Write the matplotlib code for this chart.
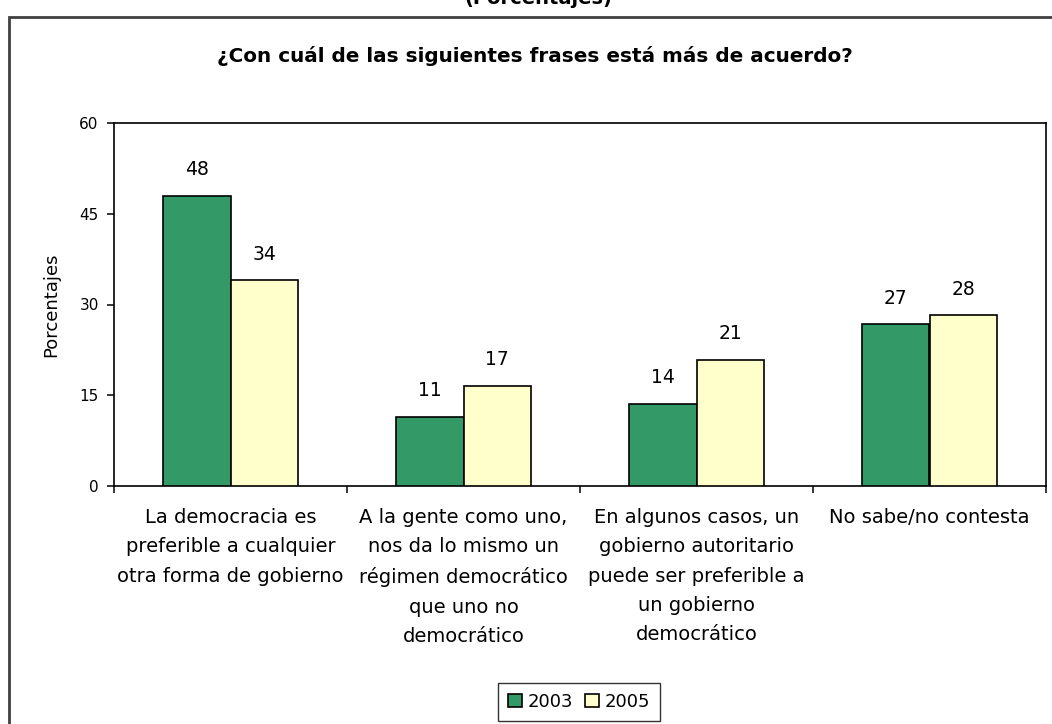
import matplotlib
matplotlib.use("Agg")
import matplotlib.pyplot as plt
import numpy as np
from matplotlib.patches import Rectangle

categories = [
    "La democracia es\npreferible a cualquier\notra forma de gobierno",
    "A la gente como uno,\nnos da lo mismo un\nrégimen democrático\nque uno no\ndemocrático",
    "En algunos casos, un\ngobierno autoritario\npuede ser preferible a\nun gobierno\ndemocrático",
    "No sabe/no contesta",
]
series_names = ["2003", "2005"]
values_2003 = [48.0, 11.4, 13.6, 26.7]
values_2005 = [34.0, 16.6, 20.8, 28.2]
yticks = [0, 15, 30, 45, 60]

title = "¿Con cuál de las siguientes frases está más de acuerdo?"
top_title = "(Porcentajes)"
ylabel = "Porcentajes"

colors = ["#339966", "#FFFFCC"]

W, H = 1052, 724
fig = plt.figure(figsize=(W / 100, H / 100), dpi=100)
fig.patch.set_facecolor("white")

def fx(px):
    return px / W

def fy(py):
    return 1 - py / H

# outer chart frame (extends beyond the visible image on right/bottom)
fig.patches.append(Rectangle((fx(9), fy(760)), fx(1100) - fx(9), fy(17) - fy(760),
                             transform=fig.transFigure, fill=False,
                             edgecolor="#404040", linewidth=2.0, zorder=0))

ax = fig.add_axes([fx(114), fy(486), fx(1046) - fx(114), fy(123) - fy(486)])
x = np.arange(len(categories))
bw = 0.288
font = "DejaVu Sans"
for i, (vals, c) in enumerate(zip([values_2003, values_2005], colors)):
    pos = x + (i - 0.5) * bw
    bars = ax.bar(pos, vals, width=bw, color=c, edgecolor="black", linewidth=1.2,
                  label=series_names[i], zorder=3)
    for b, v in zip(bars, vals):
        ax.annotate(f"{v:.0f}", (b.get_x() + b.get_width() / 2, b.get_height()),
                    xytext=(0, 12), textcoords="offset points", ha="center", va="bottom",
                    fontsize=13.5, family=font)

ax.set_xlim(-0.5, len(categories) - 0.5)
ax.set_ylim(0, 60)
ax.set_yticks(yticks)
ax.set_yticklabels([str(t) for t in yticks], fontsize=11, family=font)
ax.tick_params(axis="y", direction="out", length=5, width=1.1, pad=6)

ax.set_xticks(x)
ax.set_xticklabels(categories, fontsize=14, family=font, linespacing=1.68, va="top")
ax.tick_params(axis="x", which="major", length=0, pad=16)
ax.set_xticks(np.arange(len(categories) + 1) - 0.5, minor=True)
ax.tick_params(axis="x", which="minor", direction="out", length=5, width=1.1)

for s in ax.spines.values():
    s.set_linewidth(1.2)
    s.set_color("black")

ax.set_ylabel(ylabel, fontsize=13, family=font, labelpad=14)

fig.text(fx(535), fy(56), title, ha="center", va="center", fontsize=14.4,
         fontweight="bold", family="DejaVu Sans")
fig.text(fx(538), fy(-1), top_title, ha="center", va="center", fontsize=14,
         fontweight="bold", family="DejaVu Sans")

leg = fig.legend(loc="center", bbox_to_anchor=(fx(579), fy(702)), ncol=2,
                 frameon=True, fancybox=False, edgecolor="black",
                 prop={"family": font, "size": 13}, handlelength=0.75, handleheight=0.75,
                 handletextpad=0.3, columnspacing=0.7, borderpad=0.55)
leg.get_frame().set_linewidth(1.0)

fig.savefig("out.png", dpi=100, facecolor="white")
